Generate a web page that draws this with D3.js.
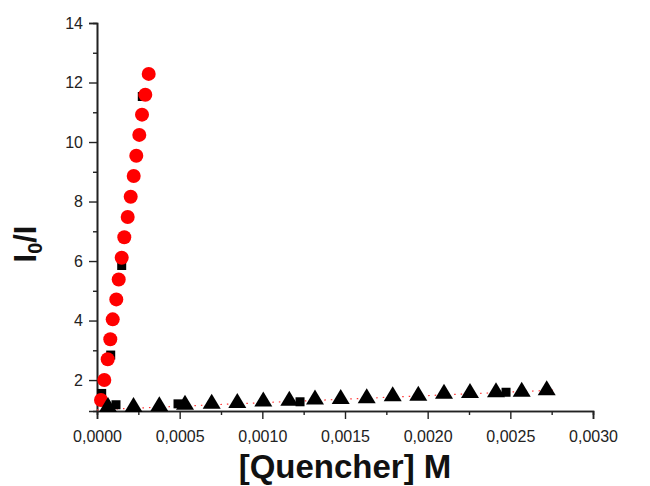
<!DOCTYPE html>
<html>
<head>
<meta charset="utf-8">
<script src="https://cdn.jsdelivr.net/npm/d3@7"></script>
<style>
  body { margin: 0; background: #fff; }
  svg { font-family: "Liberation Sans", Arial, sans-serif; }
</style>
</head>
<body>
<svg></svg>
<script>
// steep series (red circles)
let circleX = [0.0000242, 0.0000442, 0.0000647, 0.0000804, 0.0000950, 0.0001167, 0.0001313, 0.0001494, 0.0001651,
               0.0001857, 0.0002038, 0.0002220, 0.0002377, 0.0002558, 0.0002722, 0.0002921, 0.0003127];
let circleY = [1.33, 2.00, 2.70, 3.37, 4.04, 4.71, 5.38, 6.11, 6.80, 7.48, 8.16, 8.86, 9.54, 10.24, 10.92, 11.59, 12.29];

// black squares behind the circles (only the visible ones)
let steepSquareX = [0.0000284, 0.0000829, 0.0001494, 0.000274];
let steepSquareY = [1.55, 2.84, 5.85, 11.53];

// flat series (black triangles)
let triangleX = [0.0000665, 0.0002208, 0.0003768, 0.0005323, 0.0006937, 0.0008486, 0.0010058, 0.0011631, 0.0013185,
                 0.0014740, 0.0016313, 0.0017885, 0.0019433, 0.0020988, 0.0022560, 0.0024133, 0.0025688, 0.0027200];
let triangleY = [1.18, 1.18, 1.20, 1.25, 1.29, 1.31, 1.36, 1.39, 1.43, 1.45, 1.47, 1.54, 1.56, 1.62, 1.65, 1.67, 1.69, 1.74];

// black squares behind the triangles
let flatSquareX = [0.0001149, 0.000490, 0.001228, 0.002474];
let flatSquareY = [1.17, 1.20, 1.27, 1.59];

// red dotted fit line
let fitX = [0, 0.00276];
let fitY = [1.0, 1.66];

let xTicks = [0, 0.0005, 0.0010, 0.0015, 0.0020, 0.0025, 0.0030];
let yTicks = [2, 4, 6, 8, 10, 12, 14];

let width = 650;
let height = 486;

let xScale;
let yScale;

let svg = d3.select("svg");

function drawCanvas() {
    svg.attr("width", width)
       .attr("height", height);
}

function generateScales() {
    xScale = d3.scaleLinear()
               .domain([0, 0.003])
               .range([97, 593]);

    yScale = d3.scaleLinear()
               .domain([0.96, 14])
               .range([411, 23]);
}

function generateAxes() {
    let locale = d3.formatLocale({decimal: ",", thousands: ".", grouping: [3], currency: ["", ""]});
    let fmt = locale.format(".4f");

    let xMinor = d3.range(0.00025, 0.003, 0.0005);
    svg.append("g")
       .attr("transform", `translate(0, ${yScale(0.96)})`)
       .call(d3.axisBottom(xScale).tickValues(xMinor).tickSize(4).tickFormat(""));

    svg.append("g")
       .attr("id", "x-axis")
       .attr("transform", `translate(0, ${yScale(0.96)})`)
       .call(d3.axisBottom(xScale).tickValues(xTicks).tickSize(8).tickPadding(12).tickFormat(fmt));

    let yMinor = [3, 5, 7, 9, 11, 13];
    svg.append("g")
       .attr("transform", `translate(${xScale(0)}, 0)`)
       .call(d3.axisLeft(yScale).tickValues(yMinor).tickSize(4).tickFormat(""));

    svg.append("g")
       .attr("id", "y-axis")
       .attr("transform", `translate(${xScale(0)}, 0)`)
       .call(d3.axisLeft(yScale).tickValues(yTicks).tickSize(8).tickPadding(6));

    svg.selectAll(".domain").attr("stroke", "#222").attr("stroke-width", 1.6);
    svg.selectAll(".tick line").attr("stroke", "#222").attr("stroke-width", 1.4);
    svg.selectAll(".tick text").attr("font-size", 16).attr("fill", "#222")
       .attr("font-family", "Liberation Sans, Arial, sans-serif");

    svg.append("text")
       .attr("x", (xScale(0) + xScale(0.003)) / 2)
       .attr("y", 478)
       .attr("text-anchor", "middle")
       .attr("font-size", 33)
       .attr("font-weight", "bold")
       .attr("fill", "#111")
       .text("[Quencher] M");

    let yTitle = svg.append("text")
       .attr("transform", "translate(36, 244) rotate(-90)")
       .attr("text-anchor", "middle")
       .attr("font-size", 31)
       .attr("font-weight", "bold")
       .attr("fill", "#111");
    yTitle.append("tspan").text("I");
    yTitle.append("tspan").attr("font-size", 20).attr("baseline-shift", "-30%").text("0");
    yTitle.append("tspan").text("/I");
}

function drawPoints() {
    let fitLine = d3.line()
                    .x(d => xScale(d[0]))
                    .y(d => yScale(d[1]));

    svg.append("path")
       .datum(d3.zip(fitX, fitY))
       .attr("d", fitLine)
       .attr("fill", "none")
       .attr("stroke", "#ff3030")
       .attr("stroke-width", 1.2)
       .attr("stroke-dasharray", "1.5,5");

    let sq = 9;
    svg.selectAll("rect.steep")
       .data(d3.zip(steepSquareX, steepSquareY))
       .enter()
       .append("rect")
       .attr("class", "steep")
       .attr("x", d => xScale(d[0]) - sq / 2)
       .attr("y", d => yScale(d[1]) - sq / 2)
       .attr("width", sq)
       .attr("height", sq)
       .attr("fill", "#000");

    svg.selectAll("circle")
       .data(d3.zip(circleX, circleY))
       .enter()
       .append("circle")
       .attr("cx", d => xScale(d[0]))
       .attr("cy", d => yScale(d[1]))
       .attr("r", 7)
       .attr("fill", "#ff0000");

    svg.selectAll("rect.flat")
       .data(d3.zip(flatSquareX, flatSquareY))
       .enter()
       .append("rect")
       .attr("class", "flat")
       .attr("x", d => xScale(d[0]) - sq / 2)
       .attr("y", d => yScale(d[1]) - sq / 2)
       .attr("width", sq)
       .attr("height", sq)
       .attr("fill", "#000");

    svg.selectAll("path.tri")
       .data(d3.zip(triangleX, triangleY))
       .enter()
       .append("path")
       .attr("class", "tri")
       .attr("d", "M0,-7.5L9,7.5L-9,7.5Z")
       .attr("transform", d => `translate(${xScale(d[0])}, ${yScale(d[1])})`)
       .attr("fill", "#000");
}

drawCanvas();
generateScales();
generateAxes();
drawPoints();
</script>
</body>
</html>
